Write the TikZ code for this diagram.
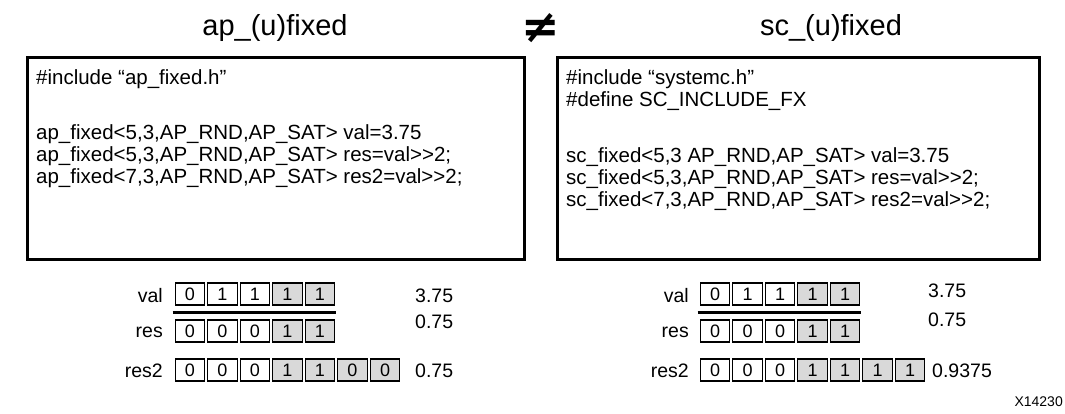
\documentclass[tikz,border=0pt]{standalone}
\usepackage{fontspec}
\setmainfont{Liberation Sans}
\newfontfamily\symfont{DejaVu Sans}
\begin{document}
\begin{tikzpicture}[x=1pt,y=-1pt,
  code/.style={anchor=base west,inner sep=0pt,font=\fontsize{20.5}{22}\selectfont},
  title/.style={anchor=base,inner sep=0pt,font=\fontsize{29}{32}\selectfont},
  codebox/.style={draw,line width=3pt},
  cell/.style={draw,line width=1.1pt,minimum width=29.5pt,minimum height=22pt,inner sep=0pt,font=\fontsize{18}{20}\selectfont},
  wcell/.style={cell,fill=white},
  gcell/.style={cell,fill=black!15},
  lbl/.style={anchor=east,inner sep=0pt,font=\fontsize{19.5}{22}\selectfont},
  num/.style={anchor=west,inner sep=0pt,font=\fontsize{19.5}{22}\selectfont},
  sep/.style={line width=3pt}]
\useasboundingbox (0,0) rectangle (1065,413);
% titles
\node[title] (t1) at (275,35) {ap\_(u)fixed};
\node[title] (t2) at (831,35) {sc\_(u)fixed};
\node[inner sep=0pt,font=\symfont\bfseries\fontsize{46}{50}\selectfont] (ne) at (541,28) {≠};
% code boxes
\draw[codebox] (27,57) rectangle (524,259);
\draw[codebox] (557,57) rectangle (1039,259);
% left code
\node[code] (l1) at (36,84) {\#include “ap\_fixed.h”};
\node[code] (l2) at (36,139) {ap\_fixed<5,3,AP\_RND,AP\_SAT> val=3.75};
\node[code] (l3) at (36,161) {ap\_fixed<5,3,AP\_RND,AP\_SAT> res=val>{}>2;};
\node[code] (l4) at (36,183) {ap\_fixed<7,3,AP\_RND,AP\_SAT> res2=val>{}>2;};
% right code
\node[code] (r1) at (566,84) {\#include “systemc.h”};
\node[code] (r2) at (566,106) {\#define SC\_INCLUDE\_FX};
\node[code] (r3) at (566,162) {sc\_fixed<5,3 AP\_RND,AP\_SAT> val=3.75};
\node[code] (r4) at (566,184) {sc\_fixed<5,3,AP\_RND,AP\_SAT> res=val>{}>2;};
\node[code] (r5) at (566,206) {sc\_fixed<7,3,AP\_RND,AP\_SAT> res2=val>{}>2;};
% left bits
\node[lbl] (lv) at (163,296) {val};
\node[lbl] (lr) at (163,332) {res};
\node[lbl] (lr2) at (163,371) {res2};
\foreach \i/\b/\s in {0/0/w,1/1/w,2/1/w,3/1/g,4/1/g}
  \node[\s cell] (lva\i) at (190+\i*32.5,294) {\b};
\foreach \i/\b/\s in {0/0/w,1/0/w,2/0/w,3/1/g,4/1/g}
  \node[\s cell] (lre\i) at (190+\i*32.5,331) {\b};
\foreach \i/\b/\s in {0/0/w,1/0/w,2/0/w,3/1/g,4/1/g,5/0/g,6/0/g}
  \node[\s cell] (lrt\i) at (190+\i*32.5,370) {\b};
\draw[sep] ([xshift=-2pt,yshift=-7pt]lva0.south west) -- ([xshift=1pt,yshift=-7pt]lva4.south east);
\node[num] (ln1) at (415,296) {3.75};
\node[num] (ln2) at (415,322) {0.75};
\node[num] (ln3) at (415,371) {0.75};
% right bits
\node[lbl] (rv) at (689,296) {val};
\node[lbl] (rr) at (689,332) {res};
\node[lbl] (rr2) at (689,371) {res2};
\foreach \i/\b/\s in {0/0/w,1/1/w,2/1/w,3/1/g,4/1/g}
  \node[\s cell] (rva\i) at (715+\i*32.5,294) {\b};
\foreach \i/\b/\s in {0/0/w,1/0/w,2/0/w,3/1/g,4/1/g}
  \node[\s cell] (rre\i) at (715+\i*32.5,331) {\b};
\foreach \i/\b/\s in {0/0/w,1/0/w,2/0/w,3/1/g,4/1/g,5/1/g,6/1/g}
  \node[\s cell] (rrt\i) at (715+\i*32.5,370) {\b};
\draw[sep] ([xshift=-2pt,yshift=-7pt]rva0.south west) -- ([xshift=1pt,yshift=-7pt]rva4.south east);
\node[num] (rn1) at (928,291) {3.75};
\node[num] (rn2) at (928,320) {0.75};
\node[num] (rn3) at (932,371) {0.9375};
% figure id
\node[anchor=base east,inner sep=0pt,font=\fontsize{14}{16}\selectfont] (id) at (1063,406) {X14230};
\end{tikzpicture}
\end{document}
